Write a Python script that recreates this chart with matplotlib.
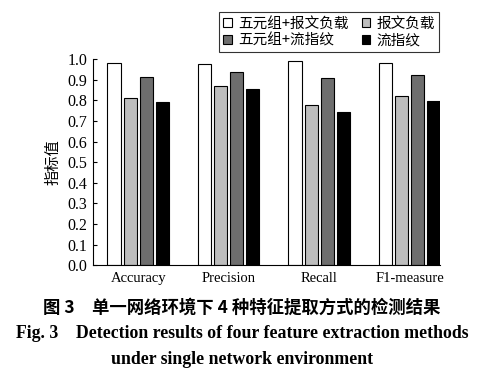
import numpy as np
import matplotlib
matplotlib.use("Agg")
import matplotlib.pyplot as plt

plt.rcParams["font.family"] = ["Liberation Serif", "Noto Sans CJK SC"]

categories = ["Accuracy", "Precision", "Recall", "F1-measure"]
series_names = ["五元组+报文负载", "报文负载", "五元组+流指纹", "流指纹"]
v_tuple_payload = [0.983, 0.974, 0.993, 0.983]
v_payload = [0.811, 0.869, 0.775, 0.819]
v_tuple_flow = [0.915, 0.936, 0.909, 0.921]
v_flow = [0.790, 0.857, 0.745, 0.797]
yticks = np.arange(0, 1.01, 0.1)

colors = ["white", "#bdbdbd", "#6e6e6e", "black"]
values = [v_tuple_payload, v_payload, v_tuple_flow, v_flow]

fig = plt.figure(figsize=(4.84, 3.74), dpi=100)
ax = fig.add_axes([0.192, 0.291, 0.718, 0.551])

x = np.arange(len(categories))
width = 0.145
step = 0.178
offsets = (np.arange(4) - 1.5) * step
bars = []
for i in range(4):
    b = ax.bar(x + offsets[i], values[i], width, color=colors[i],
               edgecolor="black", linewidth=0.8, label=series_names[i])
    bars.append(b)

ax.set_ylim(0, 1.0)
ax.set_xlim(-0.5, 3 + offsets[-1] + width / 2)
ax.set_yticks(yticks)
ax.set_yticklabels([f"{t:.1f}" for t in yticks], fontsize=11.5)
ax.set_xticks(x)
ax.set_xticklabels(categories, fontsize=10.5)
ax.tick_params(axis="y", direction="in", length=3, width=0.8, pad=4)
ax.tick_params(axis="x", length=0, pad=5)
ax.spines["top"].set_visible(False)
ax.spines["right"].set_visible(False)
ax.spines["left"].set_linewidth(0.8)
ax.spines["bottom"].set_linewidth(0.8)
ax.set_ylabel("指标值", fontsize=11, family=["Noto Sans CJK SC"], labelpad=4)

order = [0, 2, 1, 3]
leg = fig.legend([bars[i] for i in order], [series_names[i] for i in order],
                 ncol=2, loc="upper left", bbox_to_anchor=(219 / 484, 1 - 12 / 374),
                 borderaxespad=0,
                 frameon=True, fancybox=False, edgecolor="black",
                 handlelength=0.6, handleheight=0.6, handletextpad=0.4,
                 columnspacing=0.9, borderpad=0.3, labelspacing=0.2,
                 prop={"family": ["Noto Sans CJK SC"], "size": 10.5})
leg.get_frame().set_linewidth(0.8)

fig.text(0.5, 1 - 308 / 374, "图 3　单一网络环境下 4 种特征提取方式的检测结果",
         ha="center", va="center", fontsize=12.5, fontweight="bold",
         family=["Noto Sans CJK SC"])
fig.text(0.5, 1 - 334 / 374, "Fig. 3　Detection results of four feature extraction methods",
         ha="center", va="center", fontsize=12.8, fontweight="bold")
fig.text(0.5, 1 - 359 / 374, "under single network environment",
         ha="center", va="center", fontsize=12.8, fontweight="bold")

fig.savefig("out.png", dpi=100)
